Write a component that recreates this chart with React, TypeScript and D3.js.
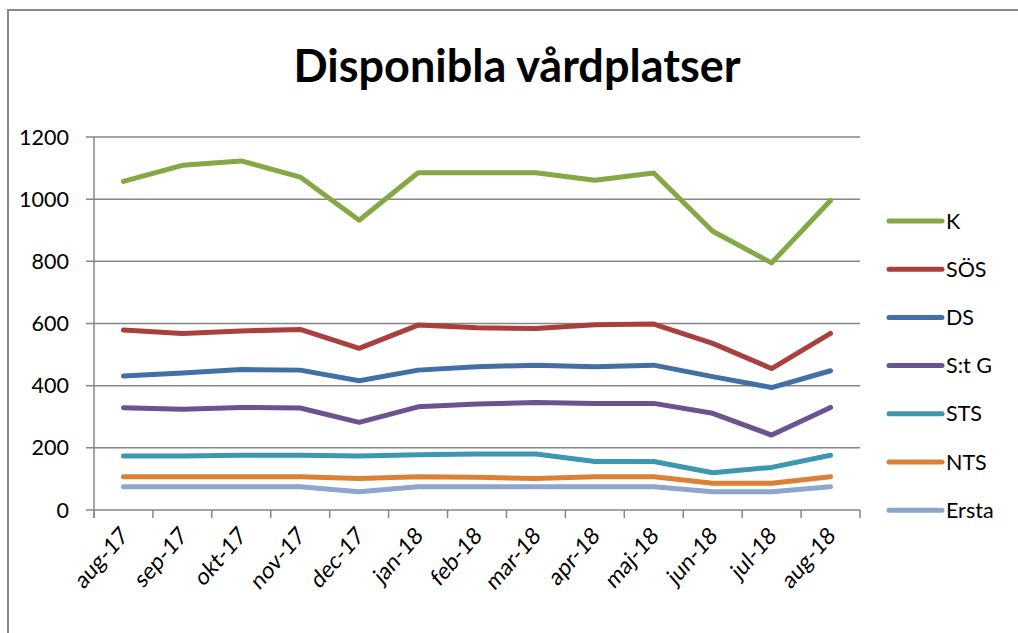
import React from 'react';
import * as d3 from 'd3';

// chart data
const months = ['aug-17', 'sep-17', 'okt-17', 'nov-17', 'dec-17', 'jan-18', 'feb-18', 'mar-18', 'apr-18', 'maj-18', 'jun-18', 'jul-18', 'aug-18'];
const seriesNames = ['K', 'SÖS', 'DS', 'S:t G', 'STS', 'NTS', 'Ersta'];
const K = [1057, 1109, 1123, 1071, 932, 1085, 1085, 1085, 1061, 1084, 897, 795, 996];
const SOS = [579, 568, 576, 581, 520, 595, 586, 584, 596, 598, 536, 455, 568];
const DS = [431, 441, 452, 450, 416, 450, 461, 466, 461, 466, 429, 394, 448];
const StG = [329, 324, 330, 328, 282, 332, 341, 346, 343, 343, 311, 241, 330];
const STS = [174, 174, 176, 176, 174, 178, 180, 180, 156, 156, 120, 137, 176];
const NTS = [107, 107, 107, 107, 101, 107, 105, 101, 107, 107, 86, 86, 107];
const Ersta = [75, 75, 75, 75, 59, 75, 75, 75, 75, 75, 59, 59, 75];
const yTicks = [0, 200, 400, 600, 800, 1000, 1200];

const colors = ['#86a844', '#a9403d', '#416fa6', '#6b5290', '#3d97ae', '#db8136', '#8ea5cc'];
const allValues = [K, SOS, DS, StG, STS, NTS, Ersta];

const W = 1018;
const H = 633;
const margin = { top: 137, left: 94, right: 158, bottom: 123 };
const font = 'Lato, "Open Sans", sans-serif';
const gridColor = '#868686';

const App = () => {
  const x = d3.scaleBand().domain(months).range([margin.left, W - margin.right]).padding(0);
  const y = d3.scaleLinear().domain([0, 1200]).range([H - margin.bottom, margin.top]);
  const bw = x.bandwidth();
  const cx = (m: string) => (x(m) as number) + bw / 2;

  const line = d3.line<number>()
    .x((d, i) => cx(months[i]))
    .y(d => y(d));

  const x0 = margin.left;
  const x1 = W - margin.right;
  const yBase = y(0);

  return (
    <svg width={W} height={H} style={{ position: 'absolute', left: 0, top: 0, background: '#fff' }}>
      {/* outer frame */}
      <path d={`M8,${H} L8,10 L${W},10`} fill="none" stroke={gridColor} strokeWidth={2} />

      <text x={517} y={82} textAnchor="middle" fontFamily={font} fontWeight="bold" fontSize={46}
        textLength={447} lengthAdjust="spacingAndGlyphs" fill="#000">Disponibla vårdplatser</text>

      {/* grid + y axis */}
      {yTicks.map(t => (
        <g key={t}>
          <line x1={x0 - 8} x2={x1} y1={y(t)} y2={y(t)} stroke={gridColor} strokeWidth={1.5} />
          <text x={69} y={y(t) + 7.5} textAnchor="end" fontFamily={font} fontSize={21.5} fill="#000">{t}</text>
        </g>
      ))}
      <line x1={x0} x2={x0} y1={y(1200)} y2={yBase + 8} stroke={gridColor} strokeWidth={1.5} />

      {/* x axis ticks */}
      {months.concat(['']).map((m, i) => {
        const tx = x0 + i * bw;
        return <line key={i} x1={tx} x2={tx} y1={yBase} y2={yBase + 8} stroke={gridColor} strokeWidth={1.5} />;
      })}
      {months.map(m => (
        <text key={m} transform={`translate(${cx(m) + 6},${yBase + 27}) scale(1,1.15) rotate(-45)`} textAnchor="end"
          fontFamily={font} fontSize={21} fill="#000">{m}</text>
      ))}

      {/* series */}
      {allValues.map((vals, si) => (
        <path key={seriesNames[si]} d={line(vals) || ''} fill="none" stroke={colors[si]} strokeWidth={5}
          strokeLinejoin="round" strokeLinecap="round" />
      ))}

      {/* legend */}
      {seriesNames.map((name, i) => {
        const ly = 221 + i * 48.2;
        return (
          <g key={name}>
            <line x1={889} x2={942} y1={ly} y2={ly} stroke={colors[i]} strokeWidth={5} strokeLinecap="round" />
            <text x={946} y={ly + 7.5} fontFamily={font} fontSize={21.5} fill="#000">{name}</text>
          </g>
        );
      })}
    </svg>
  );
};

export default App;
